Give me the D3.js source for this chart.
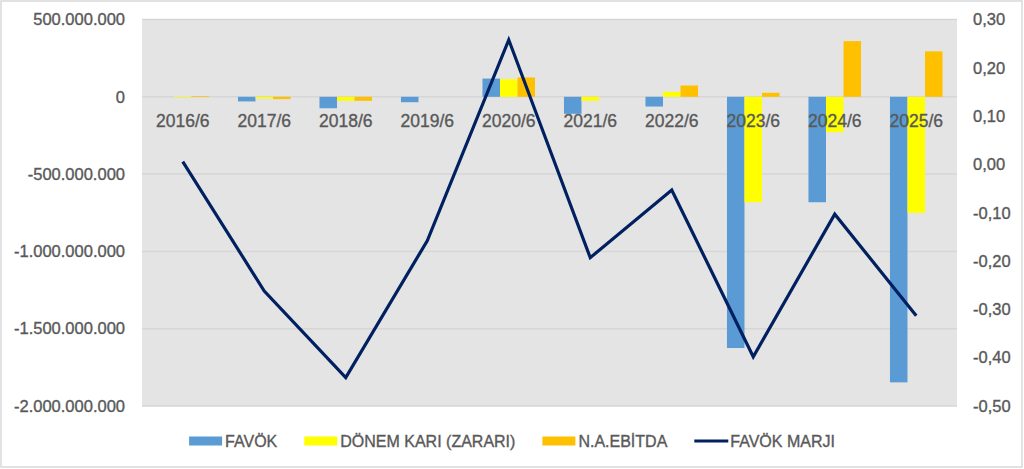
<!DOCTYPE html>
<html>
<head>
<meta charset="utf-8">
<script src="https://cdn.jsdelivr.net/npm/d3@7"></script>
<style>
  html, body { margin: 0; padding: 0; background: #fff; }
  text { font-family: 'Liberation Sans', Arial, sans-serif; fill: #595959; stroke: #595959; stroke-width: 0.35px; }
</style>
</head>
<body>
<div id="chart"></div>
<script>
// chart data
const categories = ['2016/6', '2017/6', '2018/6', '2019/6', '2020/6', '2021/6', '2022/6', '2023/6', '2024/6', '2025/6'];
const favok = [0, -30e6, -74e6, -35e6, 118e6, -110e6, -63e6, -1625e6, -682e6, -1847e6];
const donemKari = [5e6, -11e6, -26e6, 0, 114e6, -26e6, 32e6, -682e6, -229e6, -751e6];
const naEbitda = [5e6, -15e6, -26e6, 0, 125e6, 0, 73e6, 26e6, 360e6, 294e6];
const favokMarji = [0.006, -0.262, -0.441, -0.158, 0.258, -0.193, -0.053, -0.398, -0.103, -0.313];
const leftTicks = [500e6, 0, -500e6, -1000e6, -1500e6, -2000e6];
const rightTicks = [0.3, 0.2, 0.1, 0, -0.1, -0.2, -0.3, -0.4, -0.5];

const barSeries = [
    { name: 'FAVÖK', values: favok, color: '#5b9bd5' },
    { name: 'DÖNEM KARI (ZARARI)', values: donemKari, color: '#ffff00' },
    { name: 'N.A.EBİTDA', values: naEbitda, color: '#ffc000' }
];

function renderChart(containerId) {
    const W = 1024, H = 469;
    const margin = { top: 19.5, right: 67, bottom: 63, left: 142 };
    const width = W - margin.left - margin.right;
    const height = H - margin.top - margin.bottom;

    const tr = d3.formatLocale({ decimal: ',', thousands: '.', grouping: [3], currency: ['', ''], minus: '-' });
    const fmtLeft = tr.format(',.0f');
    const fmtRight = tr.format('.2f');

    const root = d3.select(`#${containerId}`).append('svg')
        .attr('width', W)
        .attr('height', H);

    // outer border
    root.append('rect')
        .attr('x', 1).attr('y', 1)
        .attr('width', W - 3).attr('height', H - 3)
        .attr('fill', '#fff')
        .attr('stroke', '#d9d9d9')
        .attr('stroke-width', 1.5);

    const svg = root.append('g')
        .attr('transform', `translate(${margin.left},${margin.top})`);

    svg.append('rect')
        .attr('width', width)
        .attr('height', height)
        .attr('fill', '#e4e4e4');

    const x = d3.scaleBand()
        .domain(categories)
        .range([0, width]);

    const barW = x.bandwidth() / (3 + 1.65);
    const x1 = d3.scaleBand()
        .domain(barSeries.map(s => s.name))
        .range([(x.bandwidth() - 3 * barW) / 2, (x.bandwidth() + 3 * barW) / 2]);

    const y = d3.scaleLinear()
        .domain([-2000e6, 500e6])
        .range([height, 0]);

    const y2 = d3.scaleLinear()
        .domain([-0.5, 0.3])
        .range([height, 0]);

    // gridlines
    svg.append('g')
        .selectAll('line')
        .data(leftTicks)
        .enter()
        .append('line')
        .attr('x1', 0)
        .attr('x2', width)
        .attr('y1', d => y(d))
        .attr('y2', d => y(d))
        .attr('stroke', '#d6d6d6')
        .attr('stroke-width', 1.5);

    // left axis
    const yAxis = svg.append('g')
        .call(d3.axisLeft(y).tickValues(leftTicks).tickFormat(fmtLeft).tickSize(0).tickPadding(17));
    yAxis.select('.domain').remove();
    yAxis.selectAll('text')
        .style('font-size', '16.5px')
        .attr('fill', '#595959');

    // right axis
    const y2Axis = svg.append('g')
        .attr('transform', `translate(${width},0)`)
        .call(d3.axisRight(y2).tickValues(rightTicks).tickFormat(fmtRight).tickSize(0).tickPadding(16));
    y2Axis.select('.domain').remove();
    y2Axis.selectAll('text')
        .style('font-size', '16.5px')
        .attr('fill', '#595959');

    // bars
    barSeries.forEach(s => {
        svg.append('g')
            .selectAll('rect')
            .data(categories.map((c, i) => ({ cat: c, v: s.values[i] })))
            .enter()
            .append('rect')
            .attr('x', d => x(d.cat) + x1(s.name))
            .attr('y', d => y(Math.max(0, d.v)))
            .attr('width', x1.bandwidth())
            .attr('height', d => Math.abs(y(d.v) - y(0)))
            .attr('fill', s.color);
    });

    // category labels just below the zero line
    svg.append('g')
        .selectAll('text')
        .data(categories)
        .enter()
        .append('text')
        .attr('x', d => x(d) + x.bandwidth() / 2)
        .attr('y', y(0) + 30.5)
        .attr('text-anchor', 'middle')
        .style('font-size', '17.5px')
        .text(d => d);

    // margin line
    const line = d3.line()
        .x((d, i) => x(categories[i]) + x.bandwidth() / 2)
        .y(d => y2(d));

    svg.append('path')
        .datum(favokMarji)
        .attr('fill', 'none')
        .attr('stroke', '#002060')
        .attr('stroke-width', 3.2)
        .attr('stroke-linejoin', 'miter')
        .attr('d', line);

    // legend
    const legendItems = barSeries.map(s => ({ name: s.name, color: s.color, type: 'bar' }))
        .concat([{ name: 'FAVÖK MARJI', color: '#002060', type: 'line' }]);

    const legend = root.append('g');
    let cx = 0;
    legendItems.forEach(item => {
        const g = legend.append('g').attr('transform', `translate(${cx},0)`);
        if (item.type === 'bar') {
            g.append('rect')
                .attr('x', 0).attr('y', -4.5)
                .attr('width', 33).attr('height', 9)
                .attr('fill', item.color);
        } else {
            g.append('line')
                .attr('x1', 0).attr('x2', 34)
                .attr('y1', 0).attr('y2', 0)
                .attr('stroke', item.color)
                .attr('stroke-width', 3.2);
        }
        const t = g.append('text')
            .attr('x', 36)
            .attr('y', 6)
            .style('font-size', '16px')
            .text(item.name);
        cx += 36 + t.node().getComputedTextLength() + 27;
    });
    const legendW = cx - 27;
    legend.attr('transform', `translate(${(W - legendW) / 2},441)`);
}

renderChart('chart');
</script>
</body>
</html>
